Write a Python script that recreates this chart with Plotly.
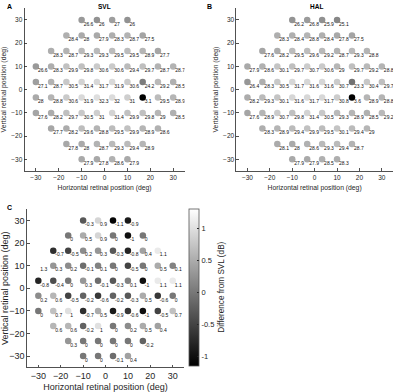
import plotly.graph_objects as go

# ---------------- data ----------------
retinal_positions_deg = [-30, -70/3, -50/3, -10, -10/3, 10/3, 10, 50/3, 70/3, 30]
row_y_deg = [30, 70/3, 50/3, 10, 10/3, -10/3, -10, -50/3, -70/3, -30]
row_point_counts = [4, 6, 8, 10, 10, 10, 10, 8, 6, 4]

svl_rows = [
    [26.6, 26, 27, 26],
    [28.4, 28, 27.9, 28.3, 28.7, 27.5],
    [28.3, 28.7, 29.3, 29.3, 29.5, 29.5, 28.9, 27.7],
    [26.6, 28.3, 29.9, 29.8, 30.6, 30.6, 29.4, 29.7, 28.7, 28.7],
    [27.1, 28.7, 30.5, 31.4, 31.7, 31.9, 30.6, 24.2, 29.2, 28.5],
    [28, 28.8, 30.6, 31.9, 32.3, 32, 31, 3.1, 29.5, 28.9],
    [27.6, 28.2, 29.7, 30.5, 31, 31.4, 29.9, 29.8, 29, 28.5],
    [27.7, 28.2, 29.6, 28.8, 29.5, 29.9, 28.9, 28.6],
    [27.8, 28, 28.7, 29.3, 29.4, 28.9],
    [27.9, 27.8, 28.6, 27.9],
]

hal_rows = [
    [26.2, 26.8, 25.9, 25.1],
    [28.3, 28.4, 28.8, 28.4, 27.8, 27.5],
    [27.6, 28.2, 29.5, 29.6, 29.2, 28.7, 29.3, 28.8],
    [27.9, 28.6, 30.1, 29.7, 30.7, 30.6, 29, 29.7, 29.2, 28.8],
    [26.4, 28.3, 30.5, 31.7, 31.6, 31.6, 30.7, 23.3, 30.4, 29.7],
    [28.2, 29.3, 30.1, 31.6, 31.7, 31.7, 30.8, 3.6, 28.9, 28.8],
    [27.6, 28.9, 30.7, 29.8, 31.4, 30.5, 29.3, 28.9, 28.5, 29.2],
    [28.3, 28.9, 29.4, 29.9, 29.5, 30.1, 29.4, 29],
    [28.1, 28, 28.6, 29.3, 29.4, 28.7],
    [27.9, 27.9, 28.5, 28.3],
]

diff_rows = [
    [-0.3, 0.9, -1.1, -0.9],
    [0, 0.5, 0.9, 0, -1, 0],
    [-0.7, -0.5, 0.2, 0.3, -0.3, -0.8, 0.4, 1.1],
    [1.3, 0.3, 0.2, -0.1, 0.1, 0, -0.5, 0, 0.5, 0.1],
    [-0.8, -0.4, 0, 0.3, -0.1, -0.3, 0.1, -1, 1.1, 1.1],
    [0.2, 0.6, -0.5, -0.2, -0.6, -0.2, -0.3, 0.5, -0.6, 0],
    [0, 0.7, 1, -0.7, 0.5, -0.9, -0.6, -1, -0.5, 0.7],
    [0.6, 0.6, -0.2, 1, 0, 0.2, 0.5, 0.4],
    [0.3, 0, 0, 0, 0, -0.2],
    [0, 0, -0.1, 0.4],
]

tick_vals = [-30, -20, -10, 0, 10, 20, 30]
cbar_ticks = [-1, -0.5, 0, 0.5, 1]


def flatten(rows):
    xs, ys, vs = [], [], []
    for yv, n, row in zip(row_y_deg, row_point_counts, rows):
        start = (len(retinal_positions_deg) - n) // 2
        cols = retinal_positions_deg[start:start + n]
        for xv, v in zip(cols, row):
            xs.append(xv)
            ys.append(yv)
            vs.append(v)
    return xs, ys, vs


def fmt(v):
    return f"{v:g}"


GRAY = [[0, "#000000"], [1, "#ffffff"]]
FONT = "Liberation Sans, Arial, sans-serif"
AX = "#262626"
LABEL_FONT = dict(size=5, color="#111111", family=FONT)


def add_panel(rows, xa, ya, cmin, cmax, colorbar=None):
    xs, ys, vs = flatten(rows)
    marker = dict(size=6.5, color=vs, colorscale=GRAY, cmin=cmin, cmax=cmax,
                  line=dict(width=0))
    if colorbar is not None:
        marker.update(showscale=True, colorbar=colorbar)
    fig.add_trace(go.Scatter(
        x=xs, y=ys, mode="markers", xaxis=xa, yaxis=ya, marker=marker,
        showlegend=False, hoverinfo="skip"))
    # value labels drawn on top, slightly to the lower right of each dot
    fig.add_trace(go.Scatter(
        x=xs, y=ys, mode="markers+text", xaxis=xa, yaxis=ya,
        marker=dict(size=1.6, opacity=0),
        text=[fmt(v) for v in vs], textposition="bottom right",
        textfont=LABEL_FONT, showlegend=False, hoverinfo="skip"))


fig = go.Figure()
add_panel(svl_rows, "x", "y", 14, 35)
add_panel(hal_rows, "x2", "y2", 14, 35)
add_panel(diff_rows, "x3", "y3", -1.14, 1.3,
          colorbar=dict(x=0.469, xanchor="left", y=0.267, yanchor="middle",
                        lenmode="pixels", len=157, thickness=10,
                        thicknessmode="pixels",
                        outlinewidth=0.8, outlinecolor="#555555",
                        tickvals=cbar_ticks,
                        ticktext=[fmt(t) for t in cbar_ticks],
                        ticks="inside", ticklen=2, tickcolor=AX,
                        tickfont=dict(size=7.5, color=AX, family=FONT),
                        xpad=0, ypad=0))


def axis(domain, anchor, tick_size, title_size, title, standoff):
    return dict(domain=domain, anchor=anchor, range=[-35, 35],
                tickvals=tick_vals, showgrid=False, zeroline=False,
                showline=True, linecolor=AX, linewidth=0.8,
                ticks="inside", ticklen=2.5, tickcolor=AX, tickwidth=0.8,
                tickfont=dict(size=tick_size, color=AX, family=FONT),
                title=dict(text=title, font=dict(size=title_size, color=AX, family=FONT),
                           standoff=standoff),
                fixedrange=True)


HX = "Horizontal retinal position (deg)"
VY = "Vertical retinal position (deg)"

fig.update_layout(
    width=400, height=392,
    margin=dict(l=0, r=0, t=0, b=0),
    paper_bgcolor="white", plot_bgcolor="white",
    font=dict(family=FONT, color=AX),
    hovermode=False,
    xaxis=axis([0.054, 0.4575], "y", 6.5, 6.8, HX, 5),
    yaxis=axis([0.5638, 0.9788], "x", 6.5, 6.8, VY, 3),
    xaxis2=axis([0.5875, 0.9825], "y2", 6.5, 6.8, HX, 5),
    yaxis2=axis([0.5638, 0.9788], "x2", 6.5, 6.8, VY, 3),
    xaxis3=axis([0.06075, 0.45575], "y3", 9, 9, HX, 4),
    yaxis3=axis([0.06276, 0.46633], "x3", 9, 9, VY, 3),
    annotations=[
        dict(text="<b>A</b>", x=0.005, y=0.998, xref="paper", yref="paper",
             xanchor="left", yanchor="top", showarrow=False,
             font=dict(size=7, color="black", family=FONT)),
        dict(text="<b>SVL</b>", x=0.256, y=0.998, xref="paper", yref="paper",
             xanchor="center", yanchor="top", showarrow=False,
             font=dict(size=6.5, color="black", family=FONT)),
        dict(text="<b>B</b>", x=0.508, y=0.998, xref="paper", yref="paper",
             xanchor="left", yanchor="top", showarrow=False,
             font=dict(size=7, color="black", family=FONT)),
        dict(text="<b>HAL</b>", x=0.79, y=0.998, xref="paper", yref="paper",
             xanchor="center", yanchor="top", showarrow=False,
             font=dict(size=6.5, color="black", family=FONT)),
        dict(text="<b>C</b>", x=0.005, y=1 - 202 / 392, xref="paper", yref="paper",
             xanchor="left", yanchor="top", showarrow=False,
             font=dict(size=7, color="black", family=FONT)),
        dict(text="Difference from SVL (dB)", x=220 / 400, y=0.267,
             xref="paper", yref="paper", xanchor="center", yanchor="middle",
             textangle=-90, showarrow=False,
             font=dict(size=8.2, color=AX, family=FONT)),
    ],
)

fig.write_html("out.html",
               config={"displayModeBar": False, "staticPlot": True},
               post_script="document.body.style.margin='0';")
